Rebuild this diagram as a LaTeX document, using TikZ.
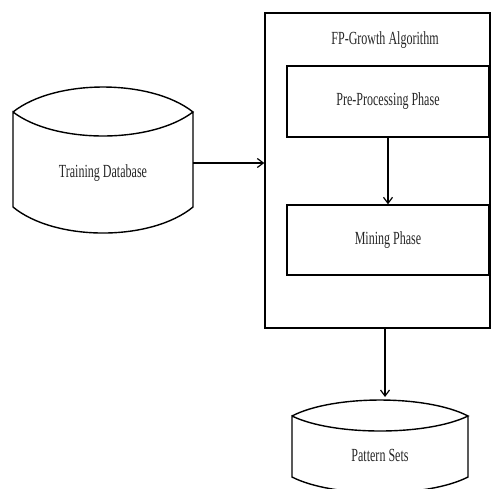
\documentclass[tikz,border=0pt]{standalone}
\usepackage{fontspec}
\setmainfont{Liberation Serif}[FakeStretch=0.65]
\usetikzlibrary{arrows.meta}

\tikzset{
    phasebox/.style={draw, line width=1.4pt, minimum width=202pt, minimum height=71pt},
    flow/.style={line width=1.2pt, -{Straight Barb[length=6pt, width=9pt]}},
    label/.style={font=\fontsize{18.5}{20}\selectfont, text=black!85},
    outline/.style={inner sep=0pt}
}

\begin{document}
\begin{tikzpicture}[x=1pt, y=-1pt]
    \useasboundingbox (0, 0) rectangle (492, 489);

    % Training Database
    \draw[line width=1.4pt] (13, 112) .. controls (55, 78.7) and (151, 78.7) .. (193, 112)
        .. controls (151, 144) and (55, 144) .. (13, 112)
        -- (13, 207) .. controls (55, 241.7) and (151, 241.7) .. (193, 207)
        -- (193, 112);
    \node[outline, minimum width=180pt, minimum height=146pt] (db) at (103, 163) {};
    \node[label] (dbtext) at (103, 173) {Training Database};

    % FP-Growth
    \node[draw, line width=1.4pt, minimum width=225pt, minimum height=315pt] (fp) at (377.5, 170.5) {};
    \node[label] (fptitle) at (385, 40) {FP-Growth Algorithm};
    \node[phasebox, label] (pre) at (388, 101.5) {Pre-Processing Phase};
    \node[phasebox, label, minimum height=70pt] (mine) at (388, 240) {Mining Phase};

    % Pattern Sets
    \draw[line width=1.4pt] (292, 416) .. controls (333, 394.7) and (427, 394.7) .. (468, 416)
        .. controls (427, 436) and (333, 436) .. (292, 416)
        -- (292, 477) .. controls (333, 498) and (427, 498) .. (468, 477)
        -- (468, 416);
    \node[outline, minimum width=176pt, minimum height=93pt] (ps) at (380, 446.5) {};
    \node[label] (pstext) at (380, 455) {Pattern Sets};
    \coordinate (psin) at (385, 397);

    \draw[flow] (db.east) -- (db.east -| fp.west);
    \draw[flow] (pre.south) -- (mine.north);
    \draw[flow] (fp.south -| psin) -- (psin);
\end{tikzpicture}
\end{document}
